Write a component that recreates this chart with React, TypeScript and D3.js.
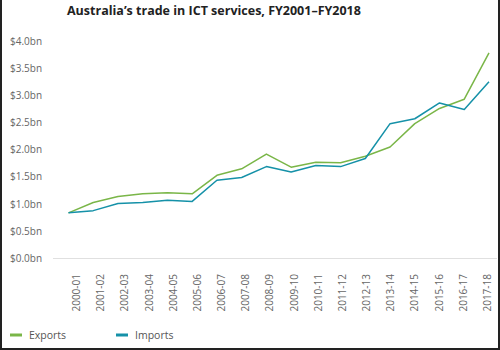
import React from "react";
import * as d3 from "d3";

// financial years shown on the x axis
const years = [
  "2000-01", "2001-02", "2002-03", "2003-04", "2004-05", "2005-06",
  "2006-07", "2007-08", "2008-09", "2009-10", "2010-11", "2011-12",
  "2012-13", "2013-14", "2014-15", "2015-16", "2016-17", "2017-18",
];

// values in $bn
const exportsBn = [
  0.84, 1.03, 1.14, 1.19, 1.21, 1.19, 1.53, 1.65, 1.92, 1.68, 1.77, 1.76,
  1.88, 2.05, 2.48, 2.76, 2.93, 3.78,
];
const importsBn = [
  0.84, 0.88, 1.01, 1.03, 1.07, 1.05, 1.44, 1.49, 1.69, 1.59, 1.71, 1.69,
  1.84, 2.48, 2.57, 2.86, 2.74, 3.25,
];

const yTicks = [0, 0.5, 1, 1.5, 2, 2.5, 3, 3.5, 4];

const series = [
  { name: "Exports", values: exportsBn, color: "#7ab648" },
  { name: "Imports", values: importsBn, color: "#1591a8" },
];

const width = 500;
const height = 350;
const font = "'Open Sans', sans-serif";

export default function App() {
  const x = d3.scalePoint<string>().domain(years).range([68.5, 489]);
  // the category labels sit on a slightly narrower band than the points
  const xLabel = d3.scalePoint<string>().domain(years).range([76.5, 487.5]);
  const y = d3.scaleLinear().domain([0, 4]).range([258.5, 41]);

  const line = d3
    .line<number>()
    .x((d, i) => x(years[i]) as number)
    .y((d) => y(d));

  return (
    <div style={{ position: "absolute", left: 0, top: 0 }}>
      <svg width={width} height={height} style={{ display: "block", fontFamily: font }}>
        <rect width={width} height={height} fill="#fff" />

        {/* title */}
        <text x={67} y={15} fontSize={12.5} fontWeight="bold" fill="#222">
          Australia’s trade in ICT services, FY2001–FY2018
        </text>

        {/* y axis labels */}
        {yTicks.map((t) => (
          <text
            key={t}
            x={10}
            y={y(t)}
            dy="0.35em"
            fontSize={10}
            fill="#666"
          >
            {`$${t.toFixed(1)}bn`}
          </text>
        ))}

        {/* baseline */}
        <line x1={53} x2={497} y1={y(0)} y2={y(0)} stroke="#e0e0e0" strokeWidth={1} />

        {/* x axis labels */}
        {years.map((yr) => (
          <text
            key={yr}
            transform={`translate(${xLabel(yr) as number},274) rotate(-90)`}
            textAnchor="end"
            dy="0.35em"
            fontSize={10}
            fill="#666"
          >
            {yr}
          </text>
        ))}

        {/* lines */}
        {series.map((s) => (
          <path
            key={s.name}
            d={line(s.values) || ""}
            fill="none"
            stroke={s.color}
            strokeWidth={1.5}
            strokeLinejoin="round"
          />
        ))}

        {/* legend */}
        {series.map((s, i) => (
          <g key={s.name} transform={`translate(${10 + i * 106},335)`}>
            <line x1={0} x2={12} y1={0} y2={0} stroke={s.color} strokeWidth={3} />
            <text x={19} y={0} dy="0.35em" fontSize={10.5} fill="#555">
              {s.name}
            </text>
          </g>
        ))}

        {/* frame: left, right, bottom */}
        <path
          d={`M1,0 V${height - 1} H${width - 1} V0`}
          fill="none"
          stroke="#222"
          strokeWidth={2}
        />
      </svg>
    </div>
  );
}
